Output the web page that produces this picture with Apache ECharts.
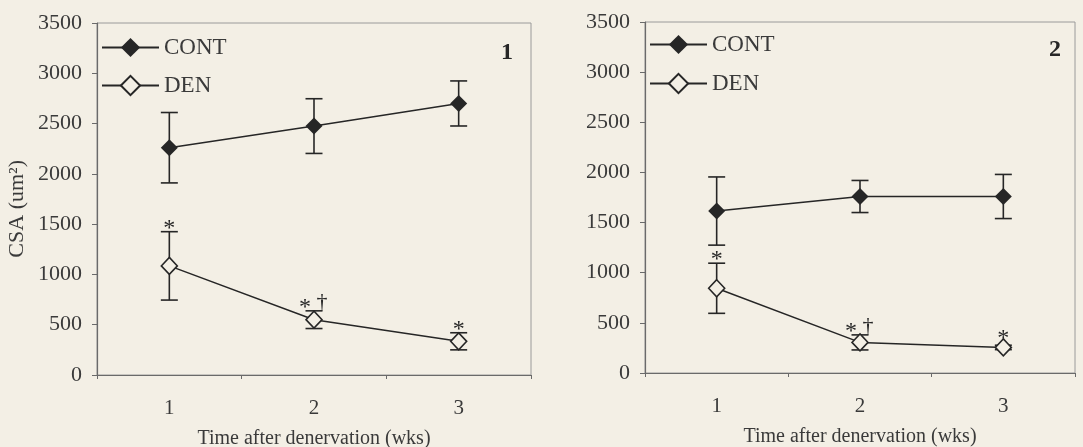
<!DOCTYPE html>
<html>
<head>
<meta charset="utf-8">
<script src="https://cdn.jsdelivr.net/npm/echarts@6/dist/echarts.min.js"></script>
<style>
html,body{margin:0;padding:0;background:#f3efe5;}
#chart{width:1083px;height:447px;}
</style>
</head>
<body>
<div id="chart"></div>
<script>
// ---- data ----
const categories = ['1', '2', '3'];
const yTicks = [0, 500, 1000, 1500, 2000, 2500, 3000, 3500];
const cont1 = [2260, 2475, 2700];
const cont1Err = [350, 272, 224];
const den1 = [1085, 550, 335];
const den1Err = [340, 88, 85];
const cont2 = [1615, 1760, 1760];
const cont2Err = [340, 160, 220];
const den2 = [845, 305, 255];
const den2Err = [250, 75, 22];
const den1Marks = ['*', '*†', '*'];
const den2Marks = ['*', '*†', '*'];
const panelLabels = ['1', '2'];

// ---- styles ----
const FONT = '"Liberation Serif", "Times New Roman", serif';
const INK = '#262626';
const TXT = '#3a3a3a';
const BG = '#f3efe5';

function errData(means, errs) {
  return means.map((m, i) => [i, m - errs[i], m + errs[i]]);
}
function markData(means, errs) {
  return means.map((m, i) => [i, m + errs[i], m]);
}

function errRender(params, api) {
  const x = api.value(0);
  const lo = api.coord([x, api.value(1)]);
  const hi = api.coord([x, api.value(2)]);
  const hw = 8.5;
  const st = { stroke: INK, lineWidth: 1.6 };
  return {
    type: 'group',
    children: [
      { type: 'line', shape: { x1: hi[0], y1: hi[1], x2: lo[0], y2: lo[1] }, style: st },
      { type: 'line', shape: { x1: hi[0] - hw, y1: hi[1], x2: hi[0] + hw, y2: hi[1] }, style: st },
      { type: 'line', shape: { x1: lo[0] - hw, y1: lo[1], x2: lo[0] + hw, y2: lo[1] }, style: st }
    ]
  };
}

function makeMarkRender(marks) {
  return function (params, api) {
    const p = api.coord([api.value(0), api.value(1)]);
    const pm = api.coord([api.value(0), api.value(2)]);
    const ay = Math.min(p[1], pm[1] - 6);
    const t = marks[params.dataIndex];
    const children = [];
    const ast = (x, y) => ({ type: 'text', x: x, y: y, style: { text: '*', font: '24px ' + FONT, fill: INK, textAlign: 'center', textVerticalAlign: 'middle' } });
    if (t.indexOf('†') >= 0) {
      children.push(ast(p[0] - 9, ay - 3));
      children.push({ type: 'text', x: p[0] + 8, y: ay - 9, style: { text: '†', font: '22px ' + FONT, fill: INK, textAlign: 'center', textVerticalAlign: 'middle' } });
    } else {
      children.push(ast(p[0], ay - 3));
    }
    return { type: 'group', children: children };
  };
}

function xAxisCfg(gi) {
  return {
    type: 'category', gridIndex: gi, data: categories, boundaryGap: true,
    name: 'Time after denervation (wks)', nameLocation: 'middle', nameGap: 54,
    nameTextStyle: { fontFamily: FONT, fontSize: 20, color: TXT },
    axisLine: { lineStyle: { color: '#6a6a6a', width: 1.2 } },
    axisTick: { show: true, length: 4, inside: false, lineStyle: { color: '#6a6a6a' } },
    axisLabel: { fontFamily: FONT, fontSize: 21, color: TXT, margin: 23 },
    splitLine: { show: false }
  };
}
function yAxisCfg(gi) {
  return {
    type: 'value', gridIndex: gi, min: yTicks[0], max: yTicks[yTicks.length - 1], interval: yTicks[1] - yTicks[0],
    axisLine: { show: true, lineStyle: { color: '#6a6a6a', width: 1.2 } },
    axisTick: { show: true, length: 5, lineStyle: { color: '#6a6a6a' } },
    axisLabel: { fontFamily: FONT, fontSize: 22, color: TXT, margin: 15, formatter: v => String(v) },
    splitLine: { show: false }
  };
}
function lineSeries(name, gi, data, filled) {
  return {
    name: name, type: 'line', xAxisIndex: gi, yAxisIndex: gi, data: data,
    symbol: 'diamond', symbolSize: filled ? [17, 17] : [16, 17],
    lineStyle: { color: INK, width: 1.5 },
    itemStyle: { color: filled ? INK : BG, borderColor: INK, borderWidth: filled ? 0 : 1.6, opacity: 1 },
    z: 5, animation: false
  };
}
function errSeries(gi, means, errs) {
  return { type: 'custom', xAxisIndex: gi, yAxisIndex: gi, data: errData(means, errs), renderItem: errRender, z: 3, silent: true, animation: false };
}
function markSeries(gi, means, errs, marks) {
  return { type: 'custom', xAxisIndex: gi, yAxisIndex: gi, data: markData(means, errs), renderItem: makeMarkRender(marks), z: 6, silent: true, animation: false };
}
function legendCfg(left, top, gap) {
  return {
    orient: 'vertical', left: left, top: top, padding: 0,
    itemWidth: 57, itemHeight: 24, itemGap: gap,
    data: ['CONT', 'DEN'],
    textStyle: { fontFamily: FONT, fontSize: 23, color: TXT },
    selectedMode: false
  };
}

const chart = echarts.init(document.getElementById('chart'), null, { renderer: 'canvas' });
chart.setOption({
  backgroundColor: BG,
  animation: false,
  grid: [
    { left: 97, top: 23, width: 434, height: 352, show: true, borderColor: '#9a9a9a', borderWidth: 1, backgroundColor: 'transparent', outerBoundsMode: 'none', containLabel: false },
    { left: 645, top: 22, width: 430, height: 351, show: true, borderColor: '#9a9a9a', borderWidth: 1, backgroundColor: 'transparent', outerBoundsMode: 'none', containLabel: false }
  ],
  xAxis: [xAxisCfg(0), xAxisCfg(1)],
  yAxis: [yAxisCfg(0), yAxisCfg(1)],
  legend: [legendCfg(101, 36, 15), legendCfg(649, 33, 16)],
  series: [
    errSeries(0, cont1, cont1Err), errSeries(0, den1, den1Err),
    lineSeries('CONT', 0, cont1, true), lineSeries('DEN', 0, den1, false),
    markSeries(0, den1, den1Err, den1Marks),
    errSeries(1, cont2, cont2Err), errSeries(1, den2, den2Err),
    lineSeries('CONT', 1, cont2, true), lineSeries('DEN', 1, den2, false),
    markSeries(1, den2, den2Err, den2Marks)
  ],
  graphic: [
    { type: 'text', left: 6, top: 160, rotation: Math.PI / 2, originX: 0, originY: 0,
      style: { text: 'CSA (um²)', font: '22px ' + FONT, fill: TXT } },
    { type: 'text', x: 507, y: 53, style: { text: panelLabels[0], font: 'bold 24px ' + FONT, fill: INK, textAlign: 'center', textVerticalAlign: 'middle' } },
    { type: 'text', x: 1055, y: 50, style: { text: panelLabels[1], font: 'bold 24px ' + FONT, fill: INK, textAlign: 'center', textVerticalAlign: 'middle' } }
  ]
});
</script>
</body>
</html>
